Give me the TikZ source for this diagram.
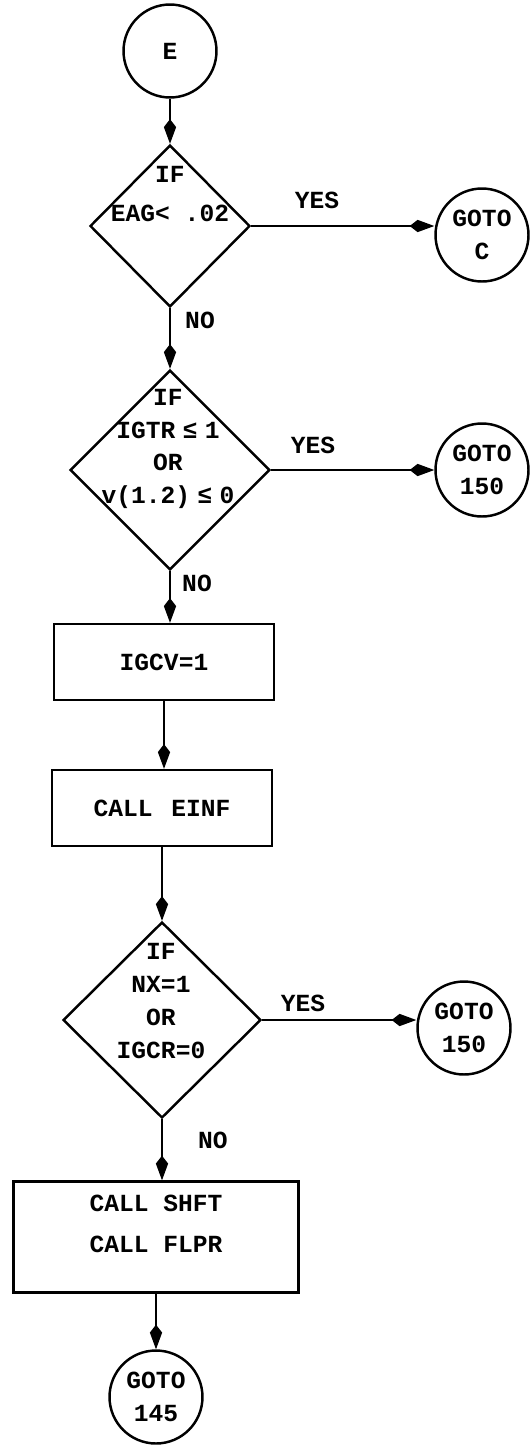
\documentclass[tikz,border=0pt]{standalone}
\usepackage{fontspec}
\setmonofont{Liberation Mono}
\usetikzlibrary{arrows.meta,shapes.geometric}

\tikzset{
  flow/.style={draw, line width=1.5pt, -{Kite[length=14pt,width=7pt,inset=4.5pt]}},
  goto/.style={draw, circle, line width=1.4pt, minimum size=1.86cm, inner sep=0pt, align=center},
  decide/.style={draw, diamond, line width=1.4pt, inner sep=0pt},
  proc/.style={draw, rectangle, line width=1.4pt, minimum width=4.4cm, minimum height=1.52cm, align=center},
  txt/.style={align=center, inner sep=0pt}
}
\newcommand{\gap}{\hspace{.3em}}

\begin{document}
\begin{tikzpicture}[x=0.02cm, y=-0.02cm, font=\ttfamily\bfseries\fontsize{14}{18.7}\selectfont]
  \useasboundingbox (0,0) rectangle (529,1454);

  % main line
  \node[goto] (e) at (170,51) {E};
  \node[decide, minimum width=3.2cm, minimum height=3.24cm] (d1) at (170,226) {};
  \node[txt] (t1) at (170,194) {IF\\[4pt]EAG< .02};
  \node[decide, minimum width=4cm, minimum height=4cm] (d2) at (170,470) {};
  \node[txt] (t2) at (168,449) {IF\\IGTR\gap≤\gap1\\OR\\v(1.2)\gap≤\gap0};
  \node[proc] (b1) at (164,662) {IGCV=1};
  \node[proc] (b2) at (162,808) {CALL\ \,EINF};
  \node[decide, minimum width=3.96cm, minimum height=3.92cm] (d3) at (162,1020) {};
  \node[txt] (t3) at (161,1001) {IF\\NX=1\\OR\\IGCR=0};
  \node[proc, minimum width=5.7cm, minimum height=2.22cm] (b3) at (156,1237) {};
  \node[txt] (t4) at (156,1224) {CALL SHFT\\[5pt]CALL FLPR};
  \node[goto] (g145) at (156,1397) {GOTO\\145};

  % exits
  \node[goto] (gc) at (482,235) {GOTO\\C};
  \node[goto] (ga) at (482,470) {GOTO\\150};
  \node[goto] (gb) at (464,1028) {GOTO\\150};

  \node[txt] (yes1) at (317,200) {YES};
  \node[txt] (no1) at (200,320) {NO};
  \node[txt] (yes2) at (313,445) {YES};
  \node[txt] (no2) at (197,583) {NO};
  \node[txt] (yes3) at (303,1003) {YES};
  \node[txt] (no3) at (213,1140) {NO};

  \draw[flow] (e) -- (d1);
  \draw[flow] (d1) -- (d2);
  \draw[flow] (d2.south) -- (d2.south |- b1.north);
  \draw[flow] (b1.south) -- (b1.south |- b2.north);
  \draw[flow] (b2) -- (d3);
  \draw[flow] (d3.south) -- (d3.south |- b3.north);
  \draw[flow] (b3) -- (g145);

  \draw[flow] (d1.east) -- (d1.east -| gc.west);
  \draw[flow] (d2.east) -- (ga.west);
  \draw[flow] (d3.east) -- (d3.east -| gb.west);
\end{tikzpicture}
\end{document}
